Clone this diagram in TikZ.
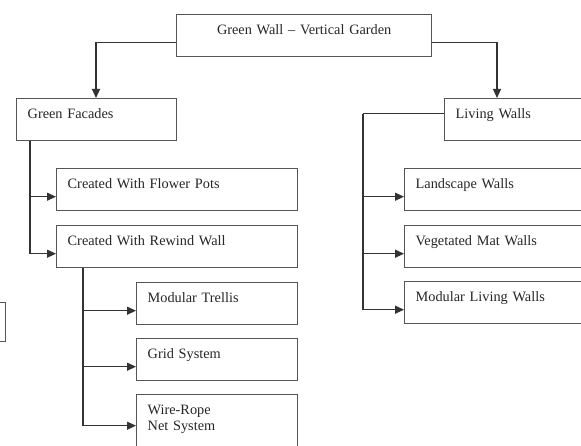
\documentclass[tikz,border=0pt]{standalone}
\usepackage{fontspec}
\setmainfont{Liberation Serif}
\usetikzlibrary{arrows.meta}
\definecolor{boxline}{HTML}{555555}
\definecolor{wire}{HTML}{333333}
\definecolor{ink}{HTML}{262626}
\begin{document}
\begin{tikzpicture}[x=1pt,y=-1pt,
  box/.style={draw=boxline, line width=1.4pt, rectangle, inner xsep=11pt,
    inner ysep=0pt, anchor=north west, align=left, text height=20pt,
    text depth=22pt, text=ink,
    font=\fontsize{14.3pt}{16pt}\selectfont},
  link/.style={draw=wire, line width=1.2pt,
    -{Triangle[length=9pt,width=8pt]}}]
  \useasboundingbox (0,0) rectangle (581,446);
  \clip (0,0) rectangle (581,446);
  \fill[white] (0,0) rectangle (581,446);

  % root and the two main groups
  \node[box, align=center, text width=233pt] (root) at (176,14)
    {Green Wall – Vertical Garden};
  \node[box, text width=138pt] (gf) at (16,98) {Green Facades};
  \node[box, text width=160pt] (lw) at (444,98) {Living Walls};

  % green facade types
  \node[box, text width=219pt] (fp) at (56,168) {Created With Flower Pots};
  \node[box, text width=219pt] (rw) at (56,225) {Created With Rewind Wall};

  % rewind wall systems
  \node[box, text width=139pt] (mt) at (136,282) {Modular Trellis};
  \node[box, text width=139pt] (gs) at (136,338) {Grid System};
  \node[box, text width=139pt, text depth=40pt] (wr) at (136,394)
    {Wire-Rope\\Net System};

  % living wall types
  \node[box, text width=200pt] (ls) at (404,168) {Landscape Walls};
  \node[box, text width=200pt] (vm) at (404,225) {Vegetated Mat Walls};
  \node[box, text width=200pt] (ml) at (404,281) {Modular Living Walls};

  % partial box at the left edge
  \node[box, text width=38pt, text depth=19pt] (edge) at (-55,302) {};

  % connector end points
  \coordinate (root-l) at ([yshift=-7pt]root.west);
  \coordinate (root-r) at ([yshift=-7pt]root.east);
  \coordinate (gf-top) at ([xshift=80pt]gf.north west);
  \coordinate (lw-top) at ([xshift=53pt]lw.north west);
  \coordinate (gf-out) at ([xshift=14pt]gf.south west);
  \coordinate (rw-out) at ([xshift=27pt]rw.south west);
  \coordinate (lw-out) at ([yshift=6pt]lw.west);
  \coordinate (lw-bus) at (363,0);
  \foreach \n in {fp,rw,mt,gs,ls,vm,ml}
    \coordinate (\n-in) at ([yshift=-7pt]\n.west);
  \coordinate (wr-in) at ([yshift=-1pt]wr.west);

  % connectors
  \draw[link] (root-l) -| (gf-top);
  \draw[link] (root-r) -| (lw-top);
  \draw[link] (gf-out) |- (fp-in);
  \draw[link] (gf-out) |- (rw-in);
  \draw[link] (rw-out) |- (mt-in);
  \draw[link] (rw-out) |- (gs-in);
  \draw[link] (rw-out) |- (wr-in);
  \draw[draw=wire, line width=1.2pt] (lw-out) -- (lw-out -| lw-bus);
  \draw[link] (lw-out -| lw-bus) |- (ls-in);
  \draw[link] (lw-out -| lw-bus) |- (vm-in);
  \draw[link] (lw-out -| lw-bus) |- (ml-in);
\end{tikzpicture}
\end{document}
